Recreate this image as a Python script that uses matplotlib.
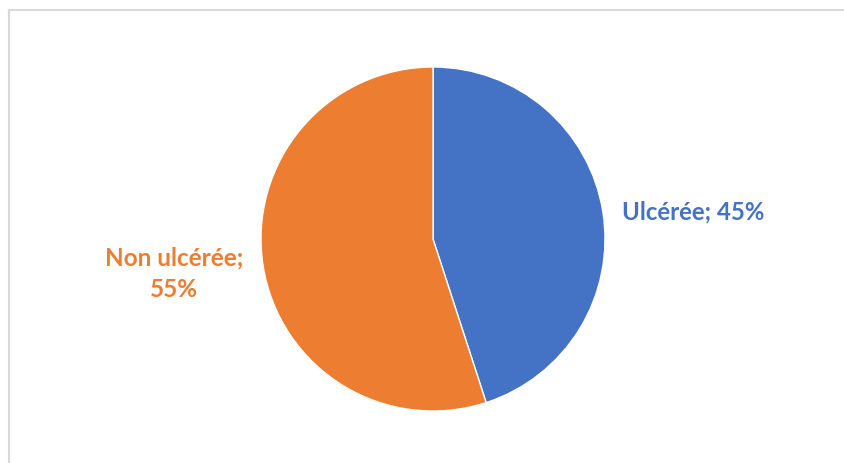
import matplotlib.pyplot as plt
from matplotlib.lines import Line2D

# Data
labels = ['Ulcérée', 'Non ulcérée']
values = [45, 55]
colors = ['#4472C4', '#ED7D31']

W, H = 845, 463
fig = plt.figure(figsize=(W / 100, H / 100), dpi=100)

# light frame (top and left edges visible)
fig.add_artist(Line2D([9.5 / W, 9.5 / W], [0, 1 - 9.5 / H], transform=fig.transFigure, color='#d9d9d9', lw=1.5))
fig.add_artist(Line2D([9.5 / W, 1], [1 - 9.5 / H, 1 - 9.5 / H], transform=fig.transFigure, color='#d9d9d9', lw=1.5))

# pie axes: center (433, 239), radius 172 px
ax = fig.add_axes([261 / W, 52 / H, 344 / W, 344 / H])
ax.pie(values, colors=colors, startangle=90, counterclock=False,
       wedgeprops=dict(edgecolor='white', linewidth=1))
ax.set_xlim(-1, 1)
ax.set_ylim(-1, 1)
ax.set_aspect('equal')
ax.axis('off')

# data labels
fig.text(622 / W, 1 - 212 / H, f'{labels[0]}; {values[0]}%', color=colors[0],
         fontsize=17.3, fontweight='bold', family='Lato', ha='left', va='center')
fig.text(174 / W, 1 - 274 / H, f'{labels[1]};\n{values[1]}%', color=colors[1],
         fontsize=17.5, fontweight='bold', family='Lato', ha='center', va='center',
         linespacing=1.45)

fig.savefig('out.png', dpi=100)
